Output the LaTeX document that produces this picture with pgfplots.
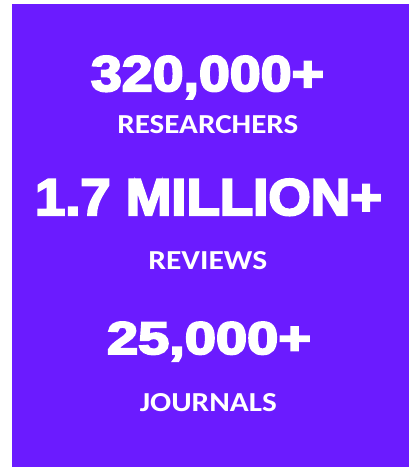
\documentclass[border=0pt]{standalone}
\usepackage{pgfplots}
\pgfplotsset{compat=1.18}
\usepackage{graphicx}
\usepackage{fontspec}
\setmainfont{Liberation Sans}
\newfontfamily\heavy{Liberation Sans Bold}[FakeBold=4]
\newfontfamily\lab{Carlito}
\definecolor{bgpurple}{RGB}{107,27,255}
\begin{document}
\begin{tikzpicture}
\begin{axis}[
  scale only axis, width=409bp, height=467bp,
  xmin=0, xmax=409, ymin=0, ymax=467, y dir=reverse,
  hide axis, clip=false]
\fill[white] (axis cs:0,0) rectangle (axis cs:409,467);
\fill[bgpurple] (axis cs:12,4) rectangle (axis cs:409,467);
\node[anchor=base, inner sep=0pt, text=white] at (axis cs:207.5,91)
  {\resizebox{233bp}{35bp}{\heavy 320,000+}};
\node[anchor=base, inner sep=0pt, text=white] at (axis cs:207.8,134)
  {\resizebox{181bp}{18bp}{\lab\bfseries RESEARCHERS}};
\node[anchor=base, inner sep=0pt, text=white] at (axis cs:208.5,215)
  {\resizebox{347bp}{36bp}{\heavy 1.7 MILLION+}};
\node[anchor=base, inner sep=0pt, text=white] at (axis cs:207.8,269.5)
  {\resizebox{119bp}{18bp}{\lab\bfseries REVIEWS}};
\node[anchor=base, inner sep=0pt, text=white] at (axis cs:209,354)
  {\resizebox{204bp}{32bp}{\heavy 25,000+}};
\node[anchor=base, inner sep=0pt, text=white] at (axis cs:208.3,411.5)
  {\resizebox{137bp}{18bp}{\lab\bfseries JOURNALS}};
\end{axis}
\end{tikzpicture}
\end{document}
